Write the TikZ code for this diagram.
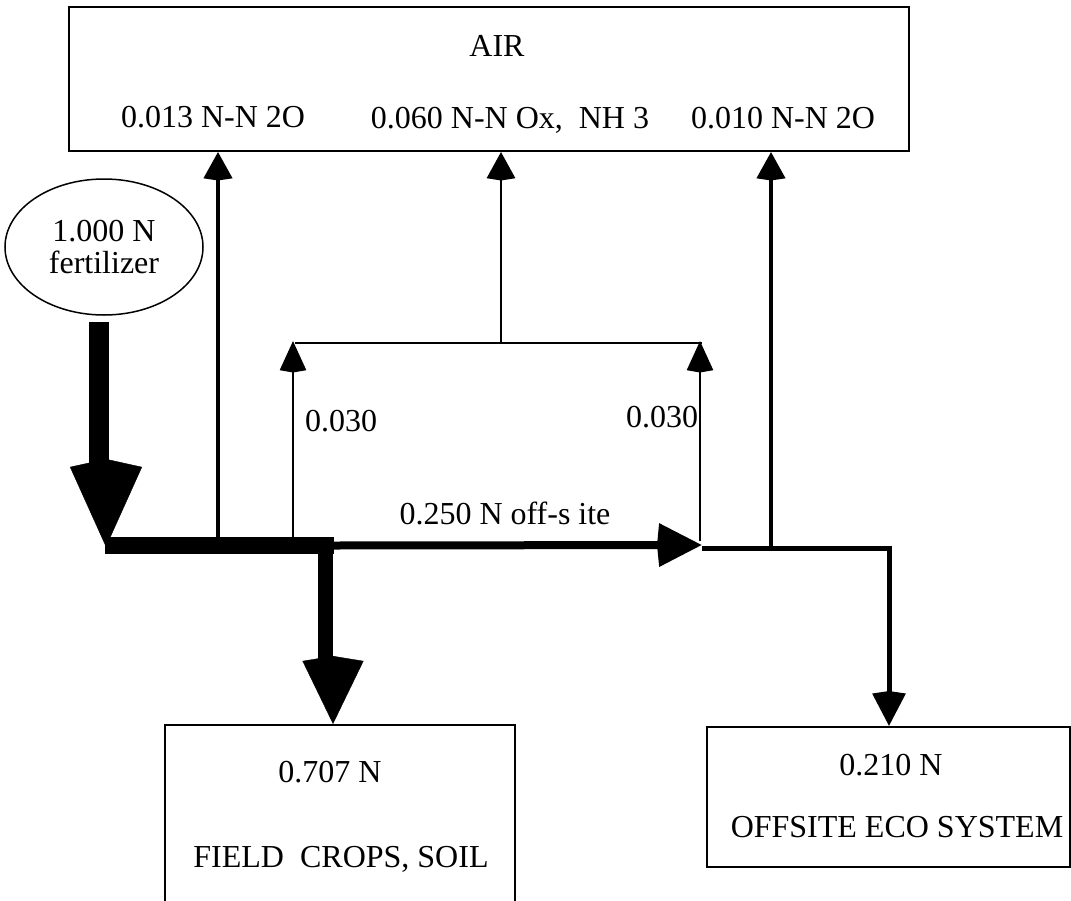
\documentclass[tikz,border=0pt]{standalone}
\usepackage{fontspec}
\setmainfont{Liberation Serif}
\usetikzlibrary{arrows.meta,shapes.geometric}
\begin{document}
\begin{tikzpicture}[x=1pt,y=-1pt,
  txt/.style={font=\fontsize{32}{32}\selectfont},
  lbl/.style={txt,anchor=base,inner sep=0pt},
  boxn/.style={draw,line width=2pt,rectangle,inner sep=0pt},
  thin/.style={line width=2.5pt},
  med/.style={line width=3.5pt},
  headS/.style={-{Stealth[length=26pt,width=28pt,inset=-2.5pt]}},
  headM/.style={-{Stealth[length=29pt,width=26pt,inset=-2.5pt]}},
  tiponly/.style={line width=0.4pt}
]
\useasboundingbox (0,0) rectangle (1071,900);

% boxes
\node[boxn,minimum width=840pt,minimum height=144pt] (air) at (489,79) {};
\node[lbl] (airt) at (497,56) {AIR};
\node[lbl] (l013) at (213,127) {0.013 N-N 2O};
\node[lbl] (l060) at (510,128) {0.060 N-N Ox,\ \ NH 3};
\node[lbl] (l010) at (783,128) {0.010 N-N 2O};

\node[draw,ellipse,line width=1.5pt,minimum width=198pt,minimum height=136pt,inner sep=0pt,
      txt,align=center] (fert) at (104,247) {1.000 N\\fertilizer};

\node[boxn,minimum width=350pt,minimum height=180pt] (crops) at (340,815) {};
\node[lbl] (crt1) at (330,782) {0.707 N};
\node[lbl] (crt2) at (341,867) {FIELD\ \ CROPS, SOIL};

\node[boxn,minimum width=363pt,minimum height=140pt] (off) at (888.5,797) {};
\node[lbl] (oft1) at (891,775) {0.210 N};
\node[lbl] (oft2) at (897,837) {OFFSITE ECO SYSTEM};

% junction coordinates
\coordinate (fs) at (99,322);
\coordinate (fh) at (99,475);
\coordinate (jA) at (106,547);
\coordinate (jB) at (334,545.5);
\coordinate (jC) at (325.5,537);
\coordinate (cH) at (325.5,672);
\coordinate (cT) at (333,728);
\coordinate (j013) at (218,540);
\coordinate (j030a) at (293,541);
\coordinate (j030b) at (700,541);
\coordinate (jD) at (702,545);
\coordinate (jE) at (702,548);
\coordinate (j010) at (771,546);
\coordinate (jF) at (889,548);
\coordinate (hl) at (295,343);
\coordinate (hr) at (702,343);
\coordinate (hm) at (501,343);

% main thick flow
\draw[line width=20pt] (fs) -- (fh);
\draw[tiponly,-{Stealth[length=80pt,width=72pt,inset=-8pt]}] (106,500) -- (jA);
\draw[line width=17pt] (105,545.5) -- (jB);
\draw[line width=15pt] (jC) -- (cH);
\draw[tiponly,-{Stealth[length=63pt,width=61pt,inset=-5pt]}] (333,700) -- (cT |- crops.north);
\node[lbl] (l250) at (505,524) {0.250 N off-s ite};
\draw[line width=8pt,-{Stealth[length=42pt,width=41pt,inset=-3pt]}] (jB) -- (jD);
\draw[line width=5pt,line join=miter,-{Stealth[length=32pt,width=32pt,inset=-3pt]}] (jE) -- (jF) -- (jF |- off.north);

% to air
\draw[med,headS] (j013) -- (j013 |- air.south);
\draw[med,headS] (j010) -- (j010 |- air.south);
\draw[thin] (hl) -- (hr);
\draw[thin,headS] (hm) -- (hm |- air.south);
\draw[line width=2pt,headM] (j030a) -- ([yshift=2pt]j030a |- hl);
\draw[line width=2pt,headM] (j030b) -- ([yshift=2pt]j030b |- hr);
\node[lbl] (l030a) at (341,431) {0.030};
\node[lbl] (l030b) at (662,427) {0.030};
\end{tikzpicture}
\end{document}
